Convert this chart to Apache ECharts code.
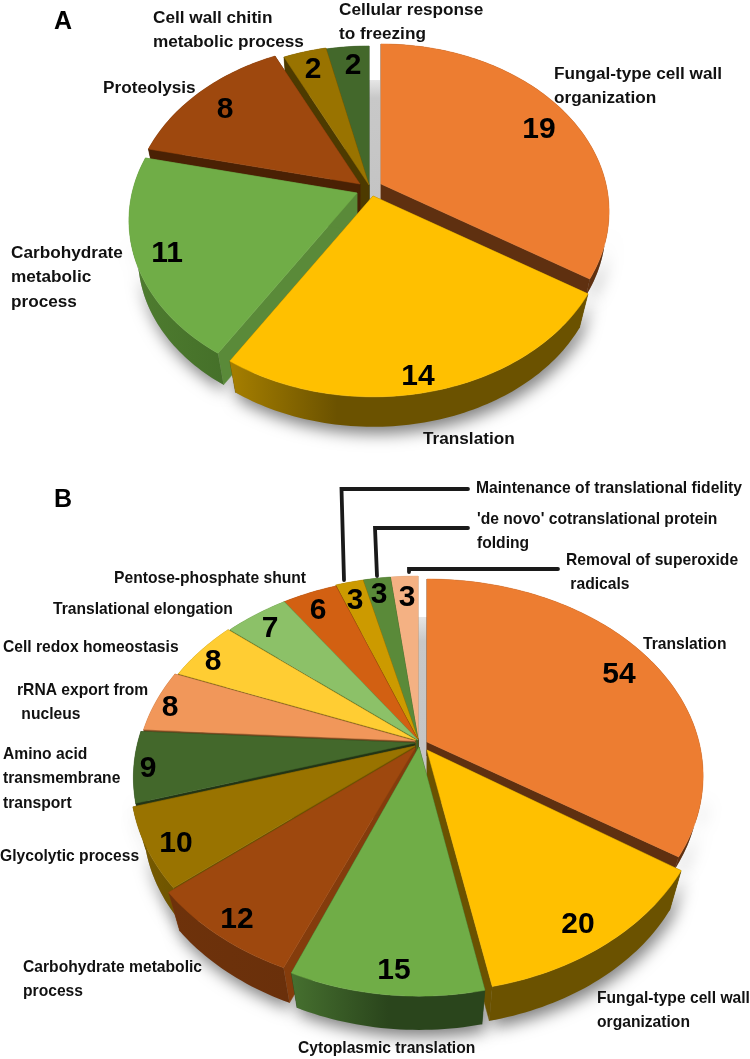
<!DOCTYPE html>
<html>
<head>
<meta charset="utf-8">
<style>html,body{margin:0;padding:0;background:#fff}#c{width:750px;height:1059px}</style>
<script src="https://cdn.jsdelivr.net/npm/echarts@6/dist/echarts.min.js"></script>
</head>
<body>
<div id="c"></div>
<script>
// ---- data ----
const categoriesA = ['Fungal-type cell wall\norganization','Translation','Carbohydrate\nmetabolic\nprocess','Proteolysis','Cell wall chitin\nmetabolic process','Cellular response\nto freezing'];
const valuesA = [19,14,11,8,2,2];
const categoriesB = ['Translation','Fungal-type cell wall\norganization','Cytoplasmic translation','Carbohydrate metabolic\nprocess','Glycolytic process','Amino acid\ntransmembrane\ntransport','rRNA export from\n nucleus','Cell redox homeostasis','Translational elongation','Pentose-phosphate shunt','Maintenance of translational fidelity',"'de novo' cotranslational protein\nfolding",'Removal of superoxide\n radicals'];
const valuesB = [54,20,15,12,10,9,8,8,7,6,3,3,3];

// ---- styles and layout ----
const topColorsA = ['#ED7D31','#FFC000','#70AD47','#9E480E','#997300','#43682B'];
const wallColorsA = ['#5F3010','#6B5200','#5A8A39','#4A2104','#4D3A00','#223415'];
const rimColorsA = [['#5F3010','#5F3010',1],['#A67F00','#6B5200',0.3],['#4F7D30','#457029',1],['#4A2104','#4A2104',1],['#4D3A00','#4D3A00',1],['#223415','#223415',1]];
const apexA = [[381,184],[373,196],[357,193],[360,184],[369,185],[369,186]];
const explodeScaleA = [[1,1],[1.03,1.03],[1,1],[1,1],[1,1],[1,1]];
const depthOverrideA = [[17,0.985],null,null,null,null,null];
const orderA = [5,4,3,0,2,1];
const numberPosA = [[539,128],[418,375],[167,252],[225,108],[313,68],[353,64]];
const labelPosA = [[554,62],[423,427],[11,241],[103,76],[153,6],[339,-2]];
const geomA = {a:225,b:163,p:0.164,s:0.96,t:38};

const topColorsB = ['#ED7D31','#FFC000','#70AD47','#9E480E','#997300','#43682B','#F1975A','#FFCD33','#8CC168','#D26012','#CC9A00','#5A8A39','#F4B183'];
const wallColorsB = ['#5F3010','#6B5200','#2A451C','#843C0C','#6B5200','#223415','#7A4A20','#6B5A10','#3F5F25','#5A2A08','#5A4400','#34501F','#B0805A'];
const rimColorsB = [['#5F3010','#5F3010',1],['#6B5200','#6B5200',1],['#46702F','#2A451C',0.5],['#6E320B','#6A300B',1],['#7A5C00','#6B5200',1],['#223415','#223415',1],['#7A4A20','#7A4A20',1],['#6B5A10','#6B5A10',1],['#3F5F25','#3F5F25',1],['#5A2A08','#5A2A08',1],['#5A4400','#5A4400',1],['#34501F','#34501F',1],['#B0805A','#B0805A',1]];
const apexB = [[427,742],[427,750],[419,747],[415,748],[415,746],[415,743],[415,741],[416,740],[418,740],[418,740],[418,739],[418,739],[418,739]];
const explodeScaleB = [[1,1],[1.01,1.05],[1.02,1.08],[1.05,1.05],[1.03,1.03],[1.02,1.02],[1.01,1.01],[1,1],[1,1],[1,1],[1,1],[1,1],[1,1]];
const depthOverrideB = [[14,0.985],null,null,null,null,null,null,null,null,null,null,null,null];
const orderB = [12,11,10,9,8,7,6,5,4,0,1,3,2];
const numberPosB = [[619,673],[578,923],[394,969],[237,918],[176,842],[148,767],[170,706],[213,660],[270,627],[318,609],[355,599],[379,593],[407,596]];
const labelPosB = [[643,632],[597,986],[298,1036],[23,955],[0,844],[3,742],[17,678],[3,635],[53,597],[114,566],[476,476],[477,507],[566,548]];
const geomB = {a:272,b:191,p:0.172,s:0.955,t:45};
const leaderLines = [
  [[468,489],[341.5,489],[344,580]],
  [[468,528],[375,528],[377,576]],
  [[558,569],[409,569],[409,572]]
];
const panelLetters = [['A',54,10],['B',54,488]];
const shadowBands = [[369,80,380,200],[418,617,427,778]];
const LABEL_FONT = 'Liberation Sans';
const NUMBER_DY = 1.5;
const FRONT = [105 * Math.PI / 180, 255 * Math.PI / 180];

function project(theta, g){
  const u = Math.sin(theta), v = -Math.cos(theta), w = 1 - g.p * v;
  return [g.a * u / w, g.b * v / w];
}
function arc(a0, a1, g, apex, k, lower, depth){
  const n = Math.max(2, Math.ceil((a1 - a0) / 0.02)), pts = [];
  const t = depth ? depth[0] : g.t, s = depth ? depth[1] : g.s;
  for (let i = 0; i <= n; i++){
    const q = project(a0 + (a1 - a0) * i / n, g);
    pts.push(lower ? [apex[0] + q[0] * k[0] * s, apex[1] + q[1] * k[1] * s + t] : [apex[0] + q[0] * k[0], apex[1] + q[1] * k[1]]);
  }
  return pts;
}
function sliceAngles(values){
  const total = values.reduce((s, v) => s + v, 0);
  let c = 0;
  return values.map(v => { const a0 = c / total * 2 * Math.PI; c += v; return [a0, c / total * 2 * Math.PI]; });
}
function xRange(pts){ const xs = pts.map(p => p[0]); return [Math.min(...xs), Math.max(...xs)]; }

function pieSeries(name, values, topColors, wallColors, rimColors, apex, scale, depths, order, numberPos, g){
  const angles = sliceAngles(values);
  const main = {
    type:'custom', name, coordinateSystem:'none', z:3, silent:true, animation:false,
    data: values,
    renderItem(params, api){
      const i = params.dataIndex, A = apex[i], [a0, a1] = angles[i], k = scale[i], d = depths[i];
      const z = order.indexOf(i) * 10 + 10;
      const top = arc(a0, a1, g, A, k, false, d), low = arc(a0, a1, g, A, k, true, d);
      const apexLow = [A[0], A[1] + (d ? d[0] : g.t)];
      const rim = top.concat(low.slice().reverse());
      const [x0, x1] = xRange(rim);
      const grad = new echarts.graphic.LinearGradient(x0, 0, x1, 0, [
        {offset:0, color:rimColors[i][0]}, {offset:rimColors[i][2], color:rimColors[i][1]}, {offset:1, color:rimColors[i][1]}], true);
      const poly = (points, fill, stroke) => ({type:'polygon', z2:z, shape:{points},
        style:{fill, stroke: stroke || fill, lineWidth:0.5}});
      const wall = j => poly([A, top[j], low[j], apexLow], wallColors[i]);
      return {type:'group', children:[
        wall(0),
        wall(top.length - 1),
        poly(rim, grad, 'transparent'),
        poly([A].concat(top), topColors[i]),
        {type:'text', z2:500, x:numberPos[i][0], y:numberPos[i][1] + NUMBER_DY,
          style:{text:String(api.value(0)), fontFamily:LABEL_FONT, fontWeight:'bold', fontSize:30,
            fill:'#000', align:'center', verticalAlign:'middle'}}
      ]};
    }
  };
  const shade = {
    type:'custom', name:name + ' shadow', coordinateSystem:'none', z:1, silent:true, animation:false,
    data: values,
    renderItem(params){
      const i = params.dataIndex, A = apex[i], k = scale[i], d = depths[i];
      const a0 = Math.max(angles[i][0], FRONT[0]), a1 = Math.min(angles[i][1], FRONT[1]);
      if (a1 <= a0) return {type:'group', children:[]};
      const top = arc(a0, a1, g, A, k, false, d), low = arc(a0, a1, g, A, k, true, d);
      return {type:'polygon', shape:{points:top.concat(low.slice().reverse())},
        style:{fill:'#999', shadowBlur:16, shadowColor:'rgba(0,0,0,0.5)', shadowOffsetX:3, shadowOffsetY:7}};
    }
  };
  return [shade, main];
}

const textLabel = (text, pos, fontSize, scaleX) => ({type:'text', x:pos[0], y:pos[1], scaleX, silent:true, z:20,
  style:{text, fontFamily:LABEL_FONT, fontWeight:'bold', fontSize, lineHeight:24.5, fill:'#111', align:'left', verticalAlign:'top'}});

const graphics = []
  .concat(categoriesA.map((t, i) => textLabel(t, labelPosA[i], 17.2, 1)))
  .concat(categoriesB.map((t, i) => textLabel(t, labelPosB[i], 17, 0.92)))
  .concat(leaderLines.map(points => ({type:'polyline', z:20, silent:true, shape:{points},
    style:{stroke:'#1a1a1a', lineWidth:3.8, fill:null, lineJoin:'miter', lineCap:'round'}})))
  .concat(panelLetters.map(([t, x, y]) => ({type:'text', x, y, z:20, silent:true,
    style:{text:t, fontFamily:LABEL_FONT, fontWeight:'bold', fontSize:25, fill:'#000', align:'left', verticalAlign:'top'}})))
  .concat(shadowBands.map(([x0, y0, x1, y1]) => ({type:'rect', z:0, silent:true, shape:{x:x0, y:y0, width:x1 - x0, height:y1 - y0},
    style:{fill:new echarts.graphic.LinearGradient(0, 0, 0, 1, [{offset:0, color:'#e6e6e6'}, {offset:0.15, color:'#c8c8c8'}, {offset:1, color:'#c4c4c4'}])}})));

const chart = echarts.init(document.getElementById('c'), null, {renderer:'canvas', width:750, height:1059});
chart.setOption({
  backgroundColor:'#fff',
  animation:false,
  graphic:{elements:graphics},
  series: []
    .concat(pieSeries('A', valuesA, topColorsA, wallColorsA, rimColorsA, apexA, explodeScaleA, depthOverrideA, orderA, numberPosA, geomA))
    .concat(pieSeries('B', valuesB, topColorsB, wallColorsB, rimColorsB, apexB, explodeScaleB, depthOverrideB, orderB, numberPosB, geomB))
});
</script>
</body>
</html>
